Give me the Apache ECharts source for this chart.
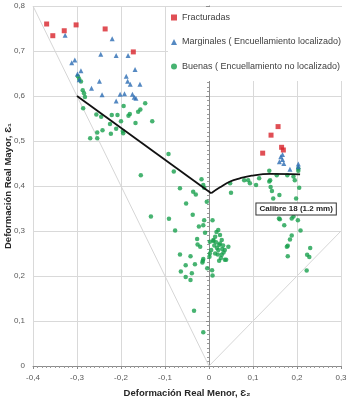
<!DOCTYPE html>
<html>
<head>
<meta charset="utf-8">
<script src="https://cdn.jsdelivr.net/npm/echarts@6/dist/echarts.min.js"></script>
<style>
    html, body { margin: 0; padding: 0; background: #fff; }
    #chart { width: 347px; height: 400px; }
</style>
</head>
<body>
<div id="chart"></div>
<script>
// 轴刻度
const xTicks = { min: -0.4, max: 0.3, interval: 0.1 };
const yTicks = { min: 0, max: 0.8, interval: 0.1 };

// 图例名称
const seriesNames = [
    'Fracturadas',
    'Marginales ( Encuellamiento localizado)',
    'Buenas ( Encuellamiento no localizado)'
];

// [ε2, ε1]
const fracturadas = [
    [-0.369, 0.76], [-0.355, 0.734], [-0.329, 0.745], [-0.302, 0.758], [-0.236, 0.749],
    [-0.172, 0.698], [0.157, 0.532], [0.141, 0.513], [0.122, 0.473], [0.165, 0.486], [0.169, 0.48]
];

const marginales = [
    [-0.327, 0.735], [-0.312, 0.674], [-0.305, 0.68], [-0.299, 0.649], [-0.291, 0.656],
    [-0.295, 0.636], [-0.267, 0.617], [-0.249, 0.633], [-0.246, 0.693], [-0.243, 0.603],
    [-0.22, 0.727], [-0.211, 0.69], [-0.211, 0.589], [-0.202, 0.604], [-0.192, 0.605],
    [-0.188, 0.644], [-0.185, 0.633], [-0.184, 0.69], [-0.179, 0.626], [-0.174, 0.604],
    [-0.17, 0.597], [-0.166, 0.595], [-0.168, 0.659], [-0.157, 0.626],
    [0.167, 0.47], [0.163, 0.465], [0.167, 0.459], [0.16, 0.454], [0.17, 0.45],
    [0.184, 0.437], [0.203, 0.449], [0.203, 0.443]
];

const buenas = [
    // 左上
    [-0.298, 0.644], [-0.295, 0.638], [-0.291, 0.632], [-0.287, 0.613], [-0.284, 0.606],
    [-0.282, 0.598], [-0.286, 0.573], [-0.256, 0.559], [-0.245, 0.554], [-0.27, 0.506],
    [-0.254, 0.519], [-0.254, 0.506], [-0.242, 0.524], [-0.225, 0.538], [-0.223, 0.516],
    [-0.221, 0.558], [-0.211, 0.527], [-0.208, 0.558], [-0.2, 0.544], [-0.196, 0.522],
    [-0.195, 0.517], [-0.194, 0.578], [-0.183, 0.556], [-0.18, 0.56], [-0.167, 0.54],
    [-0.161, 0.565], [-0.156, 0.57], [-0.145, 0.584], [-0.129, 0.544], [-0.155, 0.424],
    [-0.092, 0.471], [-0.08, 0.432], [-0.066, 0.395],
    // 中间
    [-0.036, 0.387], [-0.03, 0.381], [-0.017, 0.415], [-0.013, 0.402], [-0.011, 0.396],
    [-0.052, 0.361], [-0.005, 0.365], [-0.091, 0.327], [-0.077, 0.301], [-0.132, 0.332],
    [-0.037, 0.336], [0.05, 0.385], [0.048, 0.406], [0.008, 0.324], [-0.011, 0.324],
    [-0.013, 0.313], [-0.023, 0.31], [-0.009, 0.296], [-0.027, 0.282], [-0.026, 0.27],
    [-0.02, 0.265], [0.002, 0.276], [0.01, 0.28], [0.017, 0.298], [0.021, 0.302],
    [0.025, 0.291], [0.014, 0.287], [0.029, 0.28], [0.023, 0.269], [-0.066, 0.248],
    [-0.053, 0.224], [-0.064, 0.21], [-0.042, 0.244], [-0.039, 0.206], [-0.053, 0.198],
    [-0.042, 0.191], [-0.032, 0.226], [-0.014, 0.234], [-0.013, 0.238], [-0.015, 0.23],
    [-0.004, 0.217], [0.007, 0.213], [0.008, 0.201], [0.002, 0.25], [0.001, 0.243],
    [0.014, 0.25], [0.023, 0.234], [0.036, 0.236], [0.029, 0.247], [0.033, 0.252],
    [0.044, 0.265], [0.021, 0.258], [0.01, 0.278], [0.036, 0.258], [0.039, 0.236],
    [-0.034, 0.123], [-0.013, 0.075],
    [0.018, 0.262], [0.025, 0.272], [0.03, 0.26], [0.02, 0.248], [0.027, 0.24],
    [0.012, 0.268], [0.016, 0.275], [0.032, 0.268], [0.005, 0.258],
    // 右侧
    [0.137, 0.434], [0.154, 0.424], [0.178, 0.424], [0.192, 0.421], [0.203, 0.439],
    [0.203, 0.434], [0.195, 0.413], [0.205, 0.396], [0.114, 0.417], [0.107, 0.402],
    [0.089, 0.413], [0.08, 0.413], [0.093, 0.406], [0.139, 0.413], [0.137, 0.41],
    [0.14, 0.398], [0.143, 0.389], [0.146, 0.372], [0.16, 0.38], [0.198, 0.372],
    [0.159, 0.328], [0.188, 0.328], [0.161, 0.326], [0.171, 0.313], [0.192, 0.332],
    [0.202, 0.324], [0.208, 0.301], [0.188, 0.29], [0.184, 0.281], [0.179, 0.267],
    [0.179, 0.244], [0.23, 0.262], [0.223, 0.247], [0.228, 0.242], [0.222, 0.212],
    [0.177, 0.265]
];

// 成形极限曲线 (Calibre 18)
const flcLeft = [[-0.3, 0.6], [0.005, 0.384]];
const flcRight = [
    [0.005, 0.384], [0.025, 0.397], [0.048, 0.41], [0.07, 0.417],
    [0.097, 0.423], [0.139, 0.427], [0.207, 0.426]
];
// 参考线 (ε1 = -2ε2, ε1 = ε2)
const guideLine = [[-0.4, 0.8], [0, 0], [0.3, 0.3]];

const flcLabel = 'Calibre 18 (1.2 mm)';
const flcLabelAt = [0.198, 0.349];

const fontFamily = 'Liberation Sans, Arial, sans-serif';

function fmt(v) {
    if (Math.abs(v) < 1e-9) return '0';
    return v.toFixed(1).replace('.', ',');
}

function axisCommon() {
    return {
        type: 'value',
        nameMoveOverlap: false,
        axisLine: { show: true, lineStyle: { color: '#8c8c8c', width: 1 } },
        axisTick: { show: true, length: 3, lineStyle: { color: '#8c8c8c' } },
        minorTick: { show: true, splitNumber: 10, length: 2, lineStyle: { color: '#9a9a9a' } },
        splitLine: { show: true, lineStyle: { color: '#d9d9d9', width: 1 } },
        axisLabel: { color: '#595959', fontSize: 8, fontFamily: fontFamily, formatter: fmt },
        nameTextStyle: { color: '#262626', fontSize: 9.5, fontWeight: 'bold', fontFamily: fontFamily }
    };
}

const myChart = echarts.init(document.getElementById('chart'));
myChart.setOption({
    animation: false,
    backgroundColor: '#fff',
    textStyle: { fontFamily: fontFamily },
    grid: { left: 33, right: 6, top: 6, bottom: 34, containLabel: false, outerBoundsMode: 'none' },
    legend: {
        data: seriesNames,
        orient: 'vertical',
        left: 168,
        top: 7,
        padding: [6, 6, 10, 3],
        backgroundColor: '#fff',
        itemWidth: 6,
        itemHeight: 6,
        itemGap: 15.5,
        textStyle: { color: '#404040', fontSize: 9, fontFamily: fontFamily }
    },
    xAxis: Object.assign(axisCommon(), {
        min: xTicks.min,
        max: xTicks.max,
        interval: xTicks.interval,
        name: 'Deformación Real Menor, Ɛ₂',
        nameLocation: 'middle',
        nameGap: 22
    }),
    yAxis: Object.assign(axisCommon(), {
        min: yTicks.min,
        max: yTicks.max,
        interval: yTicks.interval,
        name: 'Deformación Real Mayor, Ɛ₁',
        nameLocation: 'middle',
        nameGap: 20
    }),
    series: [
        {
            type: 'line',
            data: guideLine,
            symbol: 'none',
            silent: true,
            lineStyle: { color: '#d6d6d6', width: 1 },
            z: 1
        },
        {
            name: seriesNames[2],
            type: 'scatter',
            data: buenas,
            symbol: 'circle',
            symbolSize: 4.5,
            itemStyle: { color: '#19a04e' },
            z: 3
        },
        {
            name: seriesNames[1],
            type: 'scatter',
            data: marginales,
            symbol: 'triangle',
            symbolSize: 5,
            itemStyle: { color: '#2b6cb3' },
            z: 4
        },
        {
            name: seriesNames[0],
            type: 'scatter',
            data: fracturadas,
            symbol: 'rect',
            symbolSize: 5,
            itemStyle: { color: '#d8232a' },
            z: 5
        },
        {
            type: 'line',
            data: flcLeft,
            symbol: 'none',
            silent: true,
            lineStyle: { color: '#111', width: 1.8 },
            z: 6
        },
        {
            type: 'line',
            data: flcRight,
            symbol: 'none',
            smooth: 0.4,
            silent: true,
            lineStyle: { color: '#111', width: 1.8 },
            z: 6,
            markPoint: {
                symbol: 'rect',
                symbolSize: 0,
                silent: true,
                data: [{ coord: flcLabelAt, value: flcLabel }],
                label: {
                    show: true,
                    position: 'inside',
                    formatter: flcLabel,
                    color: '#222',
                    fontSize: 8,
                    fontWeight: 'bold',
                    fontFamily: fontFamily,
                    backgroundColor: '#fff',
                    borderColor: '#333',
                    borderWidth: 1,
                    padding: [2, 3, 1, 3]
                }
            }
        }
    ]
});
window.addEventListener('resize', () => myChart.resize());
</script>
</body>
</html>
